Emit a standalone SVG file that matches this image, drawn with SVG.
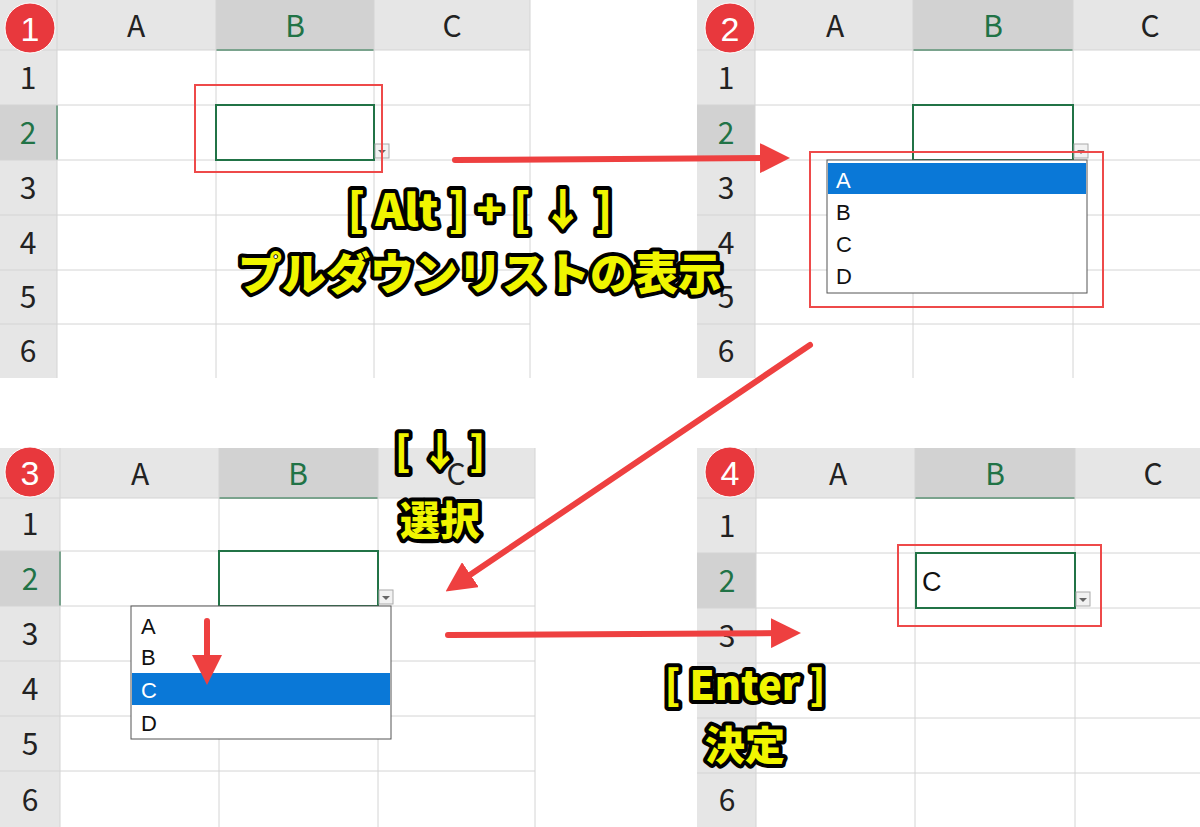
<svg xmlns="http://www.w3.org/2000/svg" width="1200" height="827" viewBox="0 0 1200 827">
<style>
.hd{fill:#e6e6e6}
.hs{fill:#d2d2d2}
.g{stroke:#d4d4d4;stroke-width:1}
.ht{font-family:"Noto Sans CJK JP","Liberation Sans",sans-serif;font-size:30px;fill:#222;text-anchor:middle}
.hg{fill:#217346}
.li{font-family:"Liberation Sans",sans-serif;font-size:22px;fill:#111}
.lab{font-family:"Noto Sans CJK JP",sans-serif;font-weight:900;fill:#f0f500;stroke:#000;stroke-width:8;paint-order:stroke;stroke-linejoin:round;text-anchor:middle}
.bd{fill:#e8383d;stroke:#fff;stroke-width:1}
.bn{font-family:"Liberation Sans",sans-serif;font-size:34px;fill:#fff;text-anchor:middle}
.ar{stroke:#ee4040;stroke-width:6;fill:none;stroke-linecap:round}
.rb{fill:none;stroke:#ee4a4a;stroke-width:2}
</style>
<defs>
<marker id="ah" markerWidth="5" markerHeight="5" refX="2.5" refY="2.5" orient="auto"><path d="M0,0L5,2.5L0,5z" fill="#ee4040"/></marker>
</defs>
<rect width="1200" height="827" fill="#fff"/>
<g id="panel1">
<rect x="0" y="0" width="530" height="50" class="hd"/>
<rect x="216" y="0" width="158" height="50" class="hs"/>
<rect x="0" y="50" width="57" height="328" class="hd"/>
<rect x="0" y="105" width="57" height="55" class="hs"/>
<line x1="216" y1="50" x2="374" y2="50" stroke="#217346" stroke-width="2"/>
<line x1="57" y1="105" x2="57" y2="160" stroke="#217346" stroke-width="2"/>
<g class="g"><line x1="216" y1="0" x2="216" y2="378"/><line x1="374" y1="0" x2="374" y2="378"/><line x1="530" y1="0" x2="530" y2="378"/><line x1="57" y1="0" x2="57" y2="378"/>
<line x1="0" y1="50" x2="530" y2="50"/><line x1="0" y1="105" x2="530" y2="105"/><line x1="0" y1="160" x2="530" y2="160"/><line x1="0" y1="215" x2="530" y2="215"/><line x1="0" y1="270" x2="530" y2="270"/><line x1="0" y1="324" x2="530" y2="324"/></g>
<text x="136" y="37" class="ht">A</text><text x="295" y="37" class="ht hg">B</text><text x="452" y="37" class="ht">C</text>
<text x="28" y="89" class="ht">1</text><text x="28" y="144" class="ht hg">2</text><text x="28" y="199" class="ht">3</text><text x="28" y="254" class="ht">4</text><text x="28" y="308" class="ht">5</text><text x="28" y="362" class="ht">6</text>
<rect x="216" y="105" width="158" height="55" fill="#fff" stroke="#217346" stroke-width="2"/>
<rect x="375" y="144" width="14" height="14" fill="#f2f2f2" stroke="#aaa"/><path d="M378,150h8l-4,4z" fill="#666"/>
<rect x="195" y="85" width="187" height="87" class="rb"/>
<circle cx="30" cy="28" r="25" class="bd"/><text x="30" y="41" class="bn">1</text>
</g>
<g id="panel2">
<rect x="697" y="0" width="503" height="50" class="hd"/>
<rect x="913" y="0" width="160" height="50" class="hs"/>
<rect x="697" y="50" width="58" height="328" class="hd"/>
<rect x="697" y="105" width="58" height="55" class="hs"/>
<line x1="913" y1="50" x2="1073" y2="50" stroke="#217346" stroke-width="2"/>
<g class="g"><line x1="755" y1="0" x2="755" y2="378"/><line x1="913" y1="0" x2="913" y2="378"/><line x1="1073" y1="0" x2="1073" y2="378"/>
<line x1="697" y1="50" x2="1200" y2="50"/><line x1="697" y1="105" x2="1200" y2="105"/><line x1="697" y1="160" x2="1200" y2="160"/><line x1="697" y1="215" x2="1200" y2="215"/><line x1="697" y1="270" x2="1200" y2="270"/><line x1="697" y1="324" x2="1200" y2="324"/></g>
<text x="835" y="37" class="ht">A</text><text x="993" y="37" class="ht hg">B</text><text x="1150" y="37" class="ht">C</text>
<text x="726" y="89" class="ht">1</text><text x="726" y="144" class="ht hg">2</text><text x="726" y="199" class="ht">3</text><text x="726" y="254" class="ht">4</text><text x="726" y="308" class="ht">5</text><text x="726" y="362" class="ht">6</text>
<rect x="913" y="105" width="160" height="55" fill="#fff" stroke="#217346" stroke-width="2"/>
<rect x="1074" y="144" width="14" height="14" fill="#f2f2f2" stroke="#aaa"/><path d="M1077,150h8l-4,4z" fill="#666"/>
<rect x="827" y="160" width="260" height="133" fill="#fff" stroke="#555"/>
<rect x="828" y="163" width="258" height="31" fill="#0a78d7"/>
<text x="836" y="188" class="li" style="fill:#fff">A</text><text x="836" y="220" class="li">B</text><text x="836" y="252" class="li">C</text><text x="836" y="284" class="li">D</text>
<rect x="810" y="152" width="293" height="155" class="rb"/>
<circle cx="730" cy="28" r="25" class="bd"/><text x="730" y="41" class="bn">2</text>
</g>
<g id="panel3">
<rect x="0" y="448" width="535" height="50" class="hd"/>
<rect x="219" y="448" width="159" height="50" class="hs"/>
<rect x="0" y="498" width="60" height="329" class="hd"/>
<rect x="0" y="551" width="60" height="55" class="hs"/>
<line x1="219" y1="498" x2="378" y2="498" stroke="#217346" stroke-width="2"/>
<line x1="60" y1="551" x2="60" y2="606" stroke="#217346" stroke-width="2"/>
<g class="g"><line x1="60" y1="448" x2="60" y2="827"/><line x1="219" y1="448" x2="219" y2="827"/><line x1="378" y1="448" x2="378" y2="827"/><line x1="535" y1="448" x2="535" y2="827"/>
<line x1="0" y1="498" x2="535" y2="498"/><line x1="0" y1="551" x2="535" y2="551"/><line x1="0" y1="606" x2="535" y2="606"/><line x1="0" y1="661" x2="535" y2="661"/><line x1="0" y1="716" x2="535" y2="716"/><line x1="0" y1="771" x2="535" y2="771"/></g>
<text x="140" y="485" class="ht">A</text><text x="298" y="485" class="ht hg">B</text><text x="456" y="485" class="ht">C</text>
<text x="30" y="535" class="ht">1</text><text x="30" y="590" class="ht hg">2</text><text x="30" y="645" class="ht">3</text><text x="30" y="700" class="ht">4</text><text x="30" y="755" class="ht">5</text><text x="30" y="811" class="ht">6</text>
<rect x="219" y="551" width="159" height="55" fill="#fff" stroke="#217346" stroke-width="2"/>
<rect x="379" y="590" width="14" height="14" fill="#f2f2f2" stroke="#aaa"/><path d="M382,596h8l-4,4z" fill="#666"/>
<rect x="131" y="606" width="260" height="133" fill="#fff" stroke="#555"/>
<rect x="132" y="673" width="258" height="32" fill="#0a78d7"/>
<text x="141" y="634" class="li">A</text><text x="141" y="665" class="li">B</text><text x="141" y="698" class="li" style="fill:#fff">C</text><text x="141" y="731" class="li">D</text>
<line x1="207" y1="621" x2="207" y2="670" class="ar" marker-end="url(#ah)"/>
<circle cx="30" cy="472" r="25" class="bd"/><text x="30" y="485" class="bn">3</text>
</g>
<g id="panel4">
<rect x="697" y="448" width="503" height="50" class="hd"/>
<rect x="915" y="448" width="160" height="50" class="hs"/>
<rect x="697" y="498" width="59" height="329" class="hd"/>
<rect x="697" y="553" width="59" height="55" class="hs"/>
<line x1="915" y1="498" x2="1075" y2="498" stroke="#217346" stroke-width="2"/>
<g class="g"><line x1="756" y1="448" x2="756" y2="827"/><line x1="915" y1="448" x2="915" y2="827"/><line x1="1075" y1="448" x2="1075" y2="827"/>
<line x1="697" y1="498" x2="1200" y2="498"/><line x1="697" y1="553" x2="1200" y2="553"/><line x1="697" y1="608" x2="1200" y2="608"/><line x1="697" y1="663" x2="1200" y2="663"/><line x1="697" y1="718" x2="1200" y2="718"/><line x1="697" y1="773" x2="1200" y2="773"/></g>
<text x="838" y="485" class="ht">A</text><text x="995" y="485" class="ht hg">B</text><text x="1153" y="485" class="ht">C</text>
<text x="727" y="537" class="ht">1</text><text x="727" y="592" class="ht hg">2</text><text x="727" y="647" class="ht">3</text><text x="727" y="702" class="ht">4</text><text x="727" y="757" class="ht">5</text><text x="727" y="811" class="ht">6</text>
<rect x="916" y="553" width="159" height="55" fill="#fff" stroke="#217346" stroke-width="2"/>
<text x="922" y="591" class="li" style="font-size:27px">C</text>
<rect x="1076" y="592" width="14" height="14" fill="#f2f2f2" stroke="#aaa"/><path d="M1079,598h8l-4,4z" fill="#666"/>
<rect x="898" y="545" width="203" height="81" class="rb"/>
<circle cx="730" cy="472" r="25" class="bd"/><text x="730" y="485" class="bn">4</text>
</g>
<g id="connectors">
<line x1="455" y1="160" x2="775" y2="158" class="ar" marker-end="url(#ah)"/>
<line x1="810" y1="345" x2="458" y2="583" class="ar" marker-end="url(#ah)"/>
<line x1="448" y1="635" x2="786" y2="633" class="ar" marker-end="url(#ah)"/>
</g>
<g id="labels">
<text x="480" y="226" class="lab" font-size="44">[ Alt ] + [ ↓ ]</text>
<text x="480" y="290" class="lab" font-size="44">プルダウンリストの表示</text>
<text x="440" y="466" class="lab" font-size="40">[ ↓ ]</text>
<text x="440" y="535" class="lab" font-size="40">選択</text>
<text x="745" y="700" class="lab" font-size="40">[ Enter ]</text>
<text x="745" y="760" class="lab" font-size="40">決定</text>
</g>
</svg>
